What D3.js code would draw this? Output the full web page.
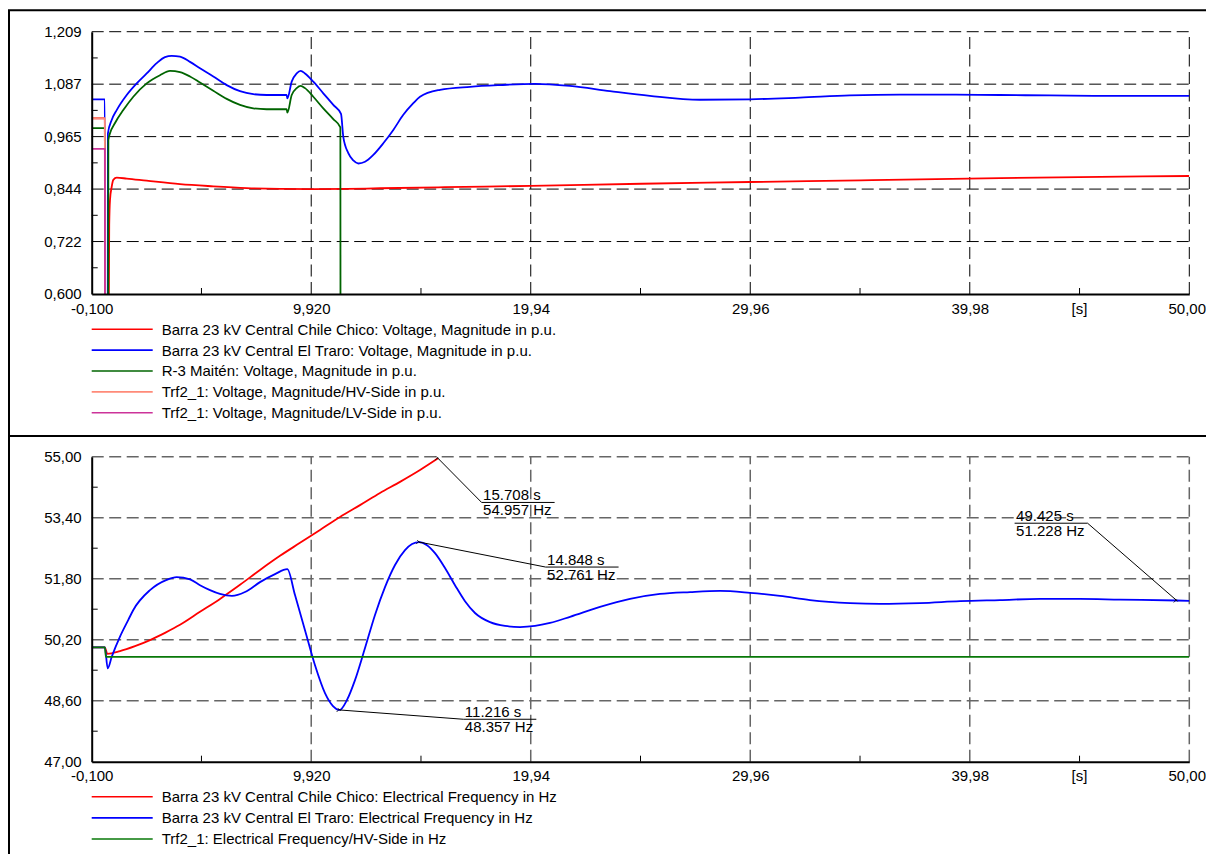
<!DOCTYPE html>
<html>
<head>
<meta charset="utf-8">
<script src="https://cdn.jsdelivr.net/npm/d3@7"></script>
<style>
  html, body { margin: 0; padding: 0; background: #fff; }
  svg { display: block; font-family: "Liberation Sans", Arial, sans-serif; }
</style>
</head>
<body>
<svg id="chart" width="1206" height="854"></svg>
<script>
// ---- axis ticks ----
const timeTicks = [-0.1, 9.92, 19.94, 29.96, 39.98, 50.0];
const timeTickLabels = ["-0,100", "9,920", "19,94", "29,96", "39,98", "50,00"];
const voltTicks = [0.600, 0.7218, 0.8436, 0.9654, 1.0872, 1.209];
const voltTickLabels = ["0,600", "0,722", "0,844", "0,965", "1,087", "1,209"];
const freqTicks = [47.0, 48.6, 50.2, 51.8, 53.4, 55.0];
const freqTickLabels = ["47,00", "48,60", "50,20", "51,80", "53,40", "55,00"];
const timeUnit = "[s]";

// ---- voltage magnitudes [t (s), U (p.u.)] ----
const voltChileChico = [
  [-0.1, 1.008], [0.5, 1.008], [0.51, 0.3], [0.65, 0.3], [0.70, 0.76], [0.735, 0.818],
  [0.813, 0.849], [0.886, 0.865], [1.041, 0.870], [1.5, 0.868], [2.41, 0.863],
  [3.93, 0.855], [5.45, 0.850], [6.98, 0.846], [8.5, 0.844], [10.0, 0.8435],
  [11.54, 0.844], [13.06, 0.8455], [16.0, 0.848], [19.94, 0.851], [25.0, 0.856],
  [29.94, 0.860], [35.0, 0.864], [41.36, 0.869], [50.0, 0.874]
];
const voltElTraro = [
  [-0.1, 1.052], [0.5, 1.052], [0.51, 0.3], [0.63, 0.3], [0.64, 0.973], [0.813, 1.004],
  [1.041, 1.027], [1.498, 1.062], [1.954, 1.089], [2.410, 1.112], [2.867, 1.136],
  [3.246, 1.150], [3.552, 1.153], [3.931, 1.151], [4.386, 1.139], [4.843, 1.124],
  [5.450, 1.105], [6.062, 1.085], [6.669, 1.071], [7.276, 1.064], [7.888, 1.062],
  [8.80, 1.062], [8.83, 1.054], [9.029, 1.093], [9.257, 1.112], [9.440, 1.118],
  [9.636, 1.112], [10.015, 1.093], [10.471, 1.066], [10.928, 1.039], [11.28, 1.018],
  [11.384, 0.965], [11.613, 0.927], [11.841, 0.910], [12.069, 0.903], [12.375, 0.907],
  [12.754, 0.923], [13.210, 0.950], [13.667, 0.981], [14.123, 1.016], [14.580, 1.043],
  [14.886, 1.058], [15.80, 1.074], [17.17, 1.081], [18.54, 1.085], [20.13, 1.088],
  [21.73, 1.083], [23.56, 1.071], [25.38, 1.060], [27.66, 1.051], [29.94, 1.052],
  [32.22, 1.056], [34.5, 1.061], [36.78, 1.063], [39.06, 1.063], [41.35, 1.062],
  [43.63, 1.061], [45.91, 1.060], [50.0, 1.060]
];
const voltMaiten = [
  [-0.1, 0.985], [0.5, 0.985], [0.51, 0.3], [0.65, 0.3], [0.66, 0.957], [0.735, 0.973],
  [0.964, 0.997], [1.342, 1.027], [1.799, 1.058], [2.410, 1.089], [3.018, 1.108],
  [3.474, 1.118], [3.931, 1.115], [4.386, 1.105], [4.843, 1.091], [5.450, 1.072],
  [6.062, 1.053], [6.669, 1.039], [7.276, 1.031], [7.888, 1.029], [8.80, 1.029],
  [8.83, 1.021], [9.029, 1.062], [9.257, 1.078], [9.440, 1.083], [9.636, 1.078],
  [10.015, 1.058], [10.471, 1.031], [10.928, 1.006], [11.25, 0.987], [11.26, 0.3],
  [50.0, 0.3]
];
const voltTrfHV = [[-0.1, 1.008], [0.5, 1.008], [0.51, 0.3]];
const voltTrfLV = [[-0.1, 0.937], [0.5, 0.937], [0.51, 0.3]];

// ---- electrical frequencies [t (s), f (Hz)] ----
const freqChileChico = [
  [-0.1, 50.0], [0.5, 50.0], [0.612, 49.83], [1.192, 49.90], [1.876, 50.03],
  [2.561, 50.19], [3.246, 50.38], [3.931, 50.59], [4.843, 50.93], [5.756, 51.27],
  [6.669, 51.64], [7.582, 52.03], [8.495, 52.40], [9.408, 52.74], [10.321, 53.08],
  [11.234, 53.42], [12.147, 53.73], [13.060, 54.05], [13.973, 54.34], [14.886, 54.65],
  [15.708, 54.957]
];
const freqElTraro = [
  [-0.1, 50.0], [0.5, 50.0], [0.63, 49.45], [0.813, 49.75], [1.192, 50.28],
  [1.571, 50.72], [1.799, 50.98], [2.561, 51.50], [3.323, 51.77], [3.780, 51.84],
  [4.387, 51.78], [4.843, 51.63], [5.300, 51.50], [5.756, 51.40], [6.304, 51.35],
  [6.897, 51.45], [7.582, 51.71], [8.267, 51.92], [8.828, 52.05], [9.180, 51.37],
  [9.636, 50.45], [10.093, 49.53], [10.549, 48.80], [10.914, 48.46], [11.216, 48.357],
  [11.553, 48.62], [11.918, 49.14], [12.375, 49.98], [12.831, 50.85], [13.288, 51.58],
  [13.745, 52.16], [14.201, 52.55], [14.521, 52.71], [14.848, 52.761], [15.205, 52.68],
  [15.570, 52.47], [16.027, 52.08], [16.483, 51.63], [16.940, 51.21], [17.396, 50.90],
  [18.081, 50.66], [18.766, 50.56], [19.451, 50.53], [20.135, 50.56], [20.820, 50.64],
  [21.733, 50.80], [23.102, 51.06], [24.472, 51.27], [25.841, 51.40], [27.210, 51.45],
  [28.580, 51.48], [29.949, 51.43], [31.318, 51.35], [32.688, 51.24], [34.513, 51.16],
  [35.883, 51.14], [37.709, 51.16], [39.535, 51.21], [41.361, 51.24], [43.187, 51.27],
  [45.012, 51.27], [46.838, 51.25], [49.425, 51.228], [50.0, 51.22]
];
const freqTrfHV = [[-0.1, 50.0], [0.5, 50.0], [0.55, 49.75], [50.0, 49.75]];

// ---- legend texts ----
const voltNames = [
  "Barra 23 kV Central Chile Chico: Voltage, Magnitude in p.u.",
  "Barra 23 kV Central El Traro: Voltage, Magnitude in p.u.",
  "R-3 Maitén: Voltage, Magnitude in p.u.",
  "Trf2_1: Voltage, Magnitude/HV-Side in p.u.",
  "Trf2_1: Voltage, Magnitude/LV-Side in p.u."
];
const freqNames = [
  "Barra 23 kV Central Chile Chico: Electrical Frequency in Hz",
  "Barra 23 kV Central El Traro: Electrical Frequency in Hz",
  "Trf2_1: Electrical Frequency/HV-Side in Hz"
];

// ---- marked extreme values [t (s), f (Hz)] ----
const freqMarks = [[15.708, 54.957], [14.848, 52.761], [11.216, 48.357], [49.425, 51.228]];

// ---------------------------------------------------------------
const svg = d3.select("#chart");
const FONT = 15;
const xLeft = 91.7, xRight = 1189.3;
const x = d3.scaleLinear().domain([-0.1, 50.0]).range([xLeft, xRight]);

// outer frame and separator
svg.append("path")
  .attr("d", "M9,860 L9,10.3 L1212,10.3")
  .attr("fill", "none").attr("stroke", "#000").attr("stroke-width", 2);
svg.append("line")
  .attr("x1", 9).attr("x2", 1212).attr("y1", 436).attr("y2", 436)
  .attr("stroke", "#000").attr("stroke-width", 2);

function drawPanel(cfg) {
  const g = svg.append("g");
  const y = d3.scaleLinear().domain(cfg.domain).range([cfg.yBottom, cfg.yTop]);

  // grid
  const grid = g.append("g")
    .attr("stroke", cfg.gridColor).attr("stroke-width", cfg.gridWidth)
    .attr("stroke-dasharray", "12,5.5").attr("fill", "none");
  timeTicks.slice(1).forEach(t => {
    grid.append("line").attr("x1", x(t)).attr("x2", x(t))
      .attr("y1", cfg.yBottom).attr("y2", cfg.yTop);
  });
  cfg.ticks.slice(1).forEach(v => {
    grid.append("line").attr("x1", xLeft).attr("x2", xRight)
      .attr("y1", y(v)).attr("y2", y(v));
  });

  // minor ticks
  const minor = g.append("g").attr("stroke", "#000").attr("stroke-width", 1);
  d3.pairs(cfg.ticks).forEach(([a, b]) => {
    const m = (a + b) / 2;
    minor.append("line").attr("x1", xLeft).attr("x2", xLeft + 6)
      .attr("y1", y(m)).attr("y2", y(m));
  });
  d3.pairs(timeTicks).forEach(([a, b]) => {
    const m = (a + b) / 2;
    minor.append("line").attr("x1", x(m)).attr("x2", x(m))
      .attr("y1", cfg.yBottom).attr("y2", cfg.yBottom - 6);
  });

  // series
  const clipId = "clip" + cfg.id;
  svg.append("clipPath").attr("id", clipId).append("rect")
    .attr("x", xLeft).attr("y", cfg.yTop - 1)
    .attr("width", xRight - xLeft).attr("height", cfg.yBottom - cfg.yTop + 1);
  const line = d3.line().x(d => x(d[0])).y(d => y(d[1])).curve(d3.curveMonotoneX);
  const sg = g.append("g").attr("clip-path", `url(#${clipId})`);
  cfg.series.forEach((s, i) => {
    sg.append("path").datum(s).attr("d", line)
      .attr("fill", "none").attr("stroke", cfg.colors[i])
      .attr("stroke-width", 1.8).attr("stroke-linejoin", "round");
  });

  // axes
  const ax = g.append("g").attr("transform", `translate(${xLeft},0)`)
    .call(d3.axisLeft(y).tickValues(cfg.ticks)
      .tickFormat((d, i) => cfg.tickLabels[i]).tickSize(0).tickSizeOuter(0).tickPadding(10));
  const bx = g.append("g").attr("transform", `translate(0,${cfg.yBottom})`)
    .call(d3.axisBottom(x).tickValues(timeTicks)
      .tickFormat((d, i) => timeTickLabels[i]).tickSize(0).tickSizeOuter(0).tickPadding(9));
  [ax, bx].forEach(a => {
    a.attr("font-family", null).attr("font-size", FONT);
    a.select(".domain").attr("stroke-width", 2).attr("stroke", "#000");
    a.selectAll("text").attr("fill", "#000");
  });
  // keep the last time label inside the page edge
  bx.selectAll(".tick text").filter((d, i) => i === timeTicks.length - 1)
    .attr("text-anchor", "end").attr("x", 1205.5 - xRight);
  g.append("text").attr("x", x((timeTicks[4] + timeTicks[5]) / 2))
    .attr("y", cfg.yBottom + 9).attr("dy", "0.71em")
    .attr("text-anchor", "middle").attr("font-size", FONT).text(timeUnit);

  // legend
  const lg = g.append("g");
  cfg.names.forEach((name, i) => {
    const ly = cfg.legendTop + i * cfg.legendStep;
    lg.append("line").attr("x1", 91.7).attr("x2", 152.7)
      .attr("y1", ly).attr("y2", ly)
      .attr("stroke", cfg.colors[i]).attr("stroke-width", 1.6);
    lg.append("text").attr("x", 161.7).attr("y", ly + 5.4)
      .attr("font-size", FONT).attr("fill", "#000").text(name);
  });
  return y;
}

// upper panel: voltages
drawPanel({
  id: "U", yTop: 31.7, yBottom: 294, domain: [0.6, 1.209],
  ticks: voltTicks, tickLabels: voltTickLabels,
  gridColor: "#000", gridWidth: 1,
  series: [voltChileChico, voltElTraro, voltMaiten, voltTrfHV, voltTrfLV],
  colors: ["#ff0000", "#0000ff", "#006400", "#ff8a78", "#cc3399"],
  names: voltNames, legendTop: 329.3, legendStep: 20.85
});

// lower panel: frequencies
const yF = drawPanel({
  id: "F", yTop: 456.7, yBottom: 761.7, domain: [47, 55],
  ticks: freqTicks, tickLabels: freqTickLabels,
  gridColor: "#666", gridWidth: 1.5,
  series: [freqChileChico, freqElTraro, freqTrfHV],
  colors: ["#ff0000", "#0000ff", "#087808"],
  names: freqNames, legendTop: 796.8, legendStep: 21.1
});

// value labels with leader lines: [dx, dy] from point to elbow, label side
const markLayout = [[43.6, 44.1, "right"], [126.4, 25, "right"], [123.7, 9.3, "right"], [-89.1, -77.3, "left"]];
const underline = 73;
const mg = svg.append("g").attr("font-size", FONT).attr("fill", "#000");
freqMarks.forEach((m, i) => {
  const px = x(m[0]), py = yF(m[1]);
  const [dx, dy, side] = markLayout[i];
  const ex = px + dx, ey = py + dy;
  const x0 = side === "right" ? ex : ex - underline;
  mg.append("path")
    .attr("d", `M${px},${py} L${ex},${ey} M${x0},${ey} L${x0 + underline},${ey}`)
    .attr("fill", "none").attr("stroke", "#000").attr("stroke-width", 1);
  mg.append("path")
    .attr("d", `M${px - 3},${py + 2} L${px},${py - 1} M${px - 2},${py - 2} L${px + 1},${py + 1}`)
    .attr("fill", "none").attr("stroke", "#000").attr("stroke-width", 0.8);
  mg.append("text").attr("x", x0 + 1.5).attr("y", ey - 2)
    .text(`${m[0].toFixed(3)} s`);
  mg.append("text").attr("x", x0 + 1.5).attr("y", ey + 13)
    .text(`${m[1].toFixed(3)} Hz`);
});
</script>
</body>
</html>
